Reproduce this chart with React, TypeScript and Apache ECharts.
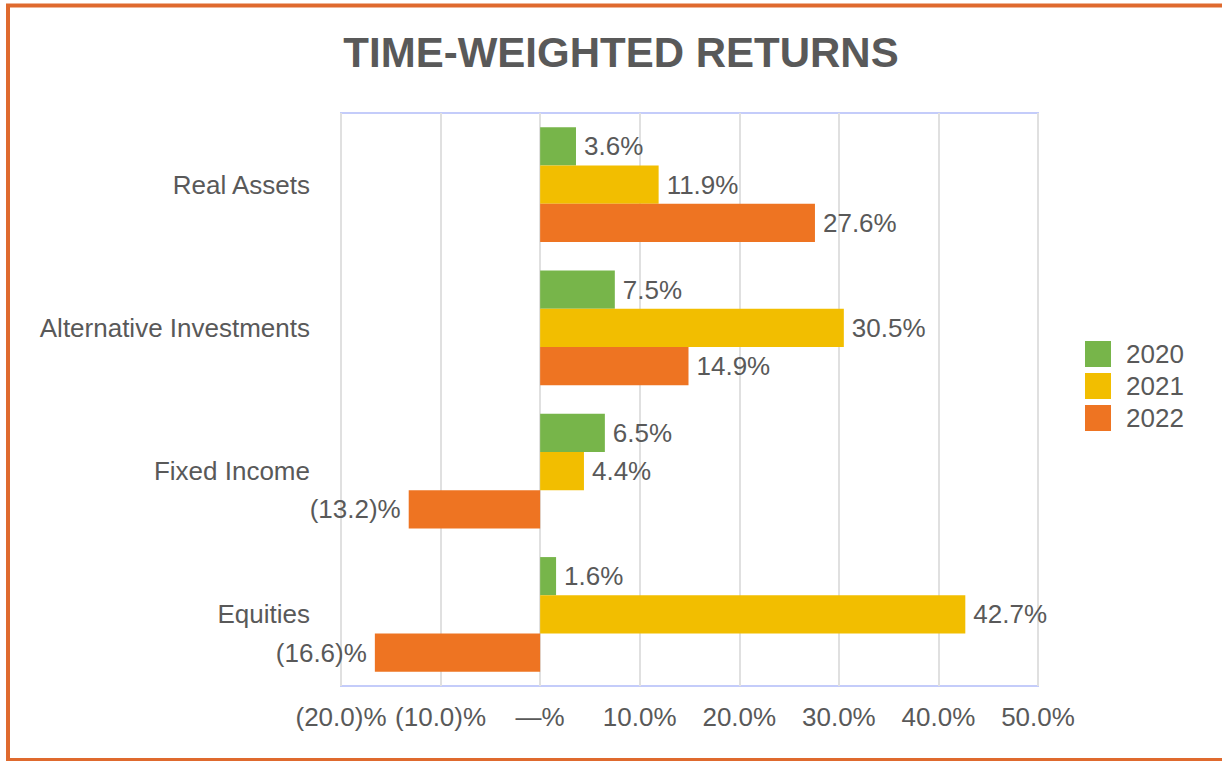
import React, { useEffect, useRef } from "react";
import * as echarts from "echarts";

const categories = ["Real Assets", "Alternative Investments", "Fixed Income", "Equities"];
const years = ["2020", "2021", "2022"];
const values2020 = [3.6, 7.5, 6.5, 1.6];
const values2021 = [11.9, 30.5, 4.4, 42.7];
const values2022 = [27.6, 14.9, -13.2, -16.6];
const colors = ["#77B54A", "#F2BE00", "#EE7422"];
const axisMin = -20;
const axisMax = 50;
const axisStep = 10;

const textColor = "#595959";
const font = "Arial, 'Liberation Sans', sans-serif";

function fmtLabel(v: number): string {
  if (v < 0) return `(${Math.abs(v).toFixed(1)})%`;
  return `${v.toFixed(1)}%`;
}
function fmtAxis(v: number): string {
  if (v === 0) return "—%";
  if (v < 0) return `(${Math.abs(v).toFixed(1)})%`;
  return `${v.toFixed(1)}%`;
}

export default function App() {
  const ref = useRef<HTMLDivElement>(null);
  useEffect(() => {
    if (!ref.current) return;
    const chart = echarts.init(ref.current, undefined, { renderer: "svg" });
    const seriesValues = [values2020, values2021, values2022];
    const series = years.map((y, i) => ({
      name: y,
      type: "bar",
      barCategoryGap: "20%",
      barGap: "0%",
      itemStyle: { color: colors[i] },
      data: seriesValues[i].map((v) => ({
        value: v,
        label: { position: v < 0 ? "left" : "right" },
      })),
      label: {
        show: true,
        distance: 8,
        color: textColor,
        fontSize: 26,
        fontFamily: font,
        formatter: (p: any) => fmtLabel(p.value),
      },
    }));
    chart.setOption({
      animation: false,
      backgroundColor: "#ffffff",
      title: {
        text: "TIME-WEIGHTED RETURNS",
        left: 616,
        textAlign: "center",
        top: 26,
        textStyle: { color: textColor, fontSize: 42, fontWeight: "bold", fontFamily: font },
      },
      legend: {
        orient: "vertical",
        left: 1080,
        top: 336,
        itemWidth: 26,
        itemHeight: 26,
        itemGap: 6,
        icon: "rect",
        data: years,
        textStyle: { color: textColor, fontSize: 26, fontFamily: font, padding: [0, 0, 0, 10] },
      },
      grid: {
        left: 341,
        top: 113,
        width: 697,
        height: 573,
        show: true,
        borderColor: "#C4CCFA",
        borderWidth: 2,
        containLabel: false,
      },
      xAxis: {
        type: "value",
        min: axisMin,
        max: axisMax,
        interval: axisStep,
        axisLine: { show: false },
        axisTick: { show: false },
        splitLine: { show: true, lineStyle: { color: "#E0E0E0", width: 2 } },
        axisLabel: {
          color: textColor,
          fontSize: 26,
          fontFamily: font,
          margin: 18,
          formatter: (v: number) => fmtAxis(v),
        },
      },
      yAxis: {
        type: "category",
        inverse: true,
        data: categories,
        axisLine: { show: false },
        axisTick: { show: false },
        splitLine: { show: false },
        axisLabel: { color: textColor, fontSize: 26, fontFamily: font, margin: 31 },
      },
      graphic: [
        {
          type: "rect",
          shape: { x: 8, y: 5.5, width: 1400, height: 754.5 },
          style: { fill: "none", stroke: "#DF6A2E", lineWidth: 4 },
          z: 100,
        },
      ],
      series,
    });
    return () => chart.dispose();
  }, []);
  return (
    <div
      ref={ref}
      style={{ position: "absolute", left: 0, top: 0, width: 1222, height: 761 }}
    />
  );
}
